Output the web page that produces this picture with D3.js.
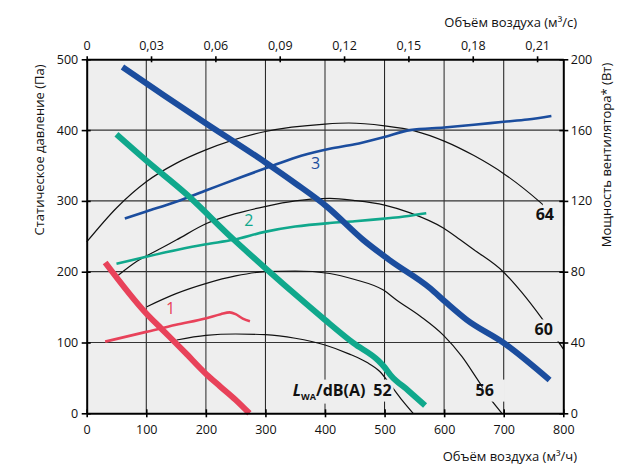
<!DOCTYPE html>
<html>
<head>
<meta charset="utf-8">
<script src="https://cdn.jsdelivr.net/npm/d3@7"></script>
<style>
  body { margin: 0; background: #fff; }
  text { font-family: "Open Sans", sans-serif; fill: #111; }
</style>
</head>
<body>
<svg></svg>
<script>
// tick values / labels
let flowTicks = [0, 100, 200, 300, 400, 500, 600, 700, 800];
let flowSecTicks = [0, 0.03, 0.06, 0.09, 0.12, 0.15, 0.18, 0.21];
let flowSecLabels = ["0", "0,03", "0,06", "0,09", "0,12", "0,15", "0,18", "0,21"];
let pressTicks = [0, 100, 200, 300, 400, 500];
let powerTicks = [0, 40, 80, 120, 160, 200];

// pressure curves, [m3/h, Pa]
let pressure1 = [[31, 213], [100, 141], [126, 119], [165, 86], [201, 55], [224, 38], [250, 19], [273, 0]];
let pressure2 = [[50, 394], [100, 357], [168, 309], [246, 246], [300, 205], [361, 160], [400, 132], [448, 99], [490, 74], [500, 65], [510, 54], [540, 32], [568, 11]];
let pressure3 = [[60, 489], [130, 449], [201, 409], [299, 355], [350, 325], [403, 292], [464, 245], [509, 216], [576, 177], [604, 156], [638, 132], [699, 100], [777, 47]];

// power curves, [m3/h, W]
let power1 = [[31, 40.5], [100, 46], [150, 50], [201, 53.7], [225, 56], [240, 57], [250, 56], [262, 53.5], [274, 52]];
let power2 = [[50, 84.5], [100, 88.5], [151, 92.3], [200, 95.5], [246, 98], [299, 102.5], [350, 105.5], [408, 107.5], [450, 108.5], [500, 110], [540, 111.5], [570, 113]];
let power3 = [[64, 110], [100, 114], [150, 119.5], [201, 126], [260, 133.5], [313, 140], [360, 145.5], [408, 149.5], [450, 152], [498, 156], [543, 160], [600, 161.5], [650, 163], [700, 164.7], [740, 166], [780, 168]];

// sound level curves LWA dB(A), [m3/h, Pa]
let sound52 = [[151, 103.5], [200, 110], [250, 112], [300, 111], [350, 106], [400, 96.5], [440, 84], [470, 72], [492, 59], [510, 40], [530, 18], [548, 0]];
let sound56 = [[101, 150.6], [150, 169], [201, 183.5], [250, 194], [299, 200], [350, 201], [408, 197.5], [450, 189], [498, 174], [520, 160], [560, 137], [599, 110], [630, 80], [655, 49], [677, 21], [697, 0]];
let sound60 = [[53, 195], [85, 215], [120, 231], [151, 245], [201, 268], [250, 282], [299, 292], [350, 300], [408, 303.5], [450, 300.5], [500, 294], [543, 283], [600, 261], [627, 245], [650, 231], [699, 200], [730, 171], [764, 134], [786, 108], [800, 91]];
let sound64 = [[0, 242], [50, 290], [100, 327], [150, 353], [200, 372], [300, 398], [400, 408.5], [440, 410], [500, 406], [550, 399], [600, 384.5], [650, 364], [700, 338.5], [760, 299], [800, 268]];

let soundLabels = ["52", "56", "60", "64"];
let seriesLabels = ["1", "2", "3"];

/***************************/

let red = "#e8425a";
let green = "#10a88c";
let blue = "#1b4d9e";

let margin = {top: 59.3, right: 75.7, bottom: 50.7, left: 86.7};
let width = 639 - margin.left - margin.right;
let height = 464 - margin.top - margin.bottom;

let xScale = d3.scaleLinear().domain([0, 800]).range([0, width]);
let xTopScale = d3.scaleLinear().domain([0, 800 / 3600]).range([0, width]);
let yScale = d3.scaleLinear().domain([0, 500]).range([height, 0]);
let yRightScale = d3.scaleLinear().domain([0, 200]).range([height, 0]);

let svg = d3.select("svg")
            .attr("width", 639)
            .attr("height", 464);

let g = svg.append("g")
          .attr("transform", `translate(${margin.left}, ${margin.top})`);

g.append("rect")
  .attr("width", width)
  .attr("height", height)
  .attr("fill", "#eeeeee");

// grid
g.selectAll(".vgrid")
  .data(flowTicks.slice(1, -1))
  .join("line")
  .attr("x1", d => xScale(d)).attr("x2", d => xScale(d))
  .attr("y1", 0).attr("y2", height)
  .attr("stroke", d => d % 200 === 0 ? "#707070" : "#1a1a1a")
  .attr("stroke-width", d => d % 200 === 0 ? 1.6 : 1);

g.selectAll(".hgrid")
  .data(pressTicks.slice(1, -1))
  .join("line")
  .attr("x1", 0).attr("x2", width)
  .attr("y1", d => yScale(d)).attr("y2", d => yScale(d))
  .attr("stroke", "#333")
  .attr("stroke-width", 1.2);

let linePa = d3.line()
  .x(d => xScale(d[0]))
  .y(d => yScale(d[1]))
  .curve(d3.curveMonotoneX);

let lineW = d3.line()
  .x(d => xScale(d[0]))
  .y(d => yRightScale(d[1]))
  .curve(d3.curveMonotoneX);

// sound curves
[sound52, sound56, sound60, sound64].forEach(s => {
  g.append("path")
    .attr("d", linePa(s))
    .attr("fill", "none")
    .attr("stroke", "#111")
    .attr("stroke-width", 1.2);
});

// labels on sound curves, with a background box that hides the curve
function boxedLabel(x, y, build) {
  let grp = g.append("g");
  let t = grp.append("text")
    .attr("x", x).attr("y", y)
    .attr("font-weight", "bold")
    .attr("font-size", 16);
  build(t);
  let bb = t.node().getBBox();
  grp.insert("rect", "text")
    .attr("x", bb.x - 2).attr("y", bb.y + 1)
    .attr("width", bb.width + 4).attr("height", bb.height)
    .attr("fill", "#eeeeee");
  return t;
}

boxedLabel(xScale(346), yScale(25), t => {
  t.append("tspan").attr("font-style", "italic").text("L");
  t.append("tspan").attr("font-size", 9).attr("dy", 4).text("WA");
  t.append("tspan").attr("dy", -4).text("/dB(A)");
});
boxedLabel(xScale(481), yScale(25), t => t.text(soundLabels[0]));
boxedLabel(xScale(668), yScale(25), t => t.text(soundLabels[1])).attr("text-anchor", "middle");
boxedLabel(xScale(767), yScale(110), t => t.text(soundLabels[2])).attr("text-anchor", "middle");
boxedLabel(xScale(769), yScale(273), t => t.text(soundLabels[3])).attr("text-anchor", "middle");

// power curves (thin)
[[power1, red], [power2, green], [power3, blue]].forEach(([s, c]) => {
  g.append("path")
    .attr("d", lineW(s))
    .attr("fill", "none")
    .attr("stroke", c)
    .attr("stroke-width", 2.6);
});

// pressure curves (thick)
[[pressure1, red], [pressure2, green], [pressure3, blue]].forEach(([s, c]) => {
  g.append("path")
    .attr("d", linePa(s))
    .attr("fill", "none")
    .attr("stroke", c)
    .attr("stroke-width", 6);
});

// series numbers
[[seriesLabels[0], 141, 140, red], [seriesLabels[1], 272, 265, green], [seriesLabels[2], 384, 345, blue]].forEach(([txt, x, y, c]) => {
  g.append("text")
    .attr("x", xScale(x)).attr("y", yScale(y))
    .attr("text-anchor", "middle")
    .attr("font-size", 16)
    .style("fill", c)
    .text(txt);
});

// axes
function styleAxis(sel) {
  sel.select(".domain").attr("stroke", "#000").attr("stroke-width", 2);
  sel.selectAll(".tick line").attr("stroke", "#000").attr("stroke-width", 1.6);
  sel.selectAll(".tick text").attr("font-size", 12.5).style("fill", "#111");
}

let xAxis = g.append("g")
  .attr("transform", `translate(0, ${height})`)
  .call(d3.axisBottom(xScale).tickValues(flowTicks).tickSize(4).tickSizeOuter(0).tickPadding(8).tickFormat(d3.format("d")));
xAxis.selectAll(".tick line").attr("y1", -4);
styleAxis(xAxis);

let xTopAxis = g.append("g")
  .call(d3.axisTop(xTopScale).tickValues(flowSecTicks).tickSize(3).tickSizeOuter(0).tickPadding(6).tickFormat((d, i) => flowSecLabels[i]));
xTopAxis.selectAll(".tick line").attr("y1", 3);
styleAxis(xTopAxis);

let yAxis = g.append("g")
  .call(d3.axisLeft(yScale).tickValues(pressTicks).tickSize(5).tickSizeOuter(0).tickPadding(3.5));
yAxis.selectAll(".tick line").attr("x1", 4);
styleAxis(yAxis);

let yRightAxis = g.append("g")
  .attr("transform", `translate(${width}, 0)`)
  .call(d3.axisRight(yRightScale).tickValues(powerTicks).tickSize(5).tickSizeOuter(0).tickPadding(2.5));
yRightAxis.selectAll(".tick line").attr("x1", -4);
styleAxis(yRightAxis);

// axis titles
svg.append("text")
  .attr("x", 577).attr("y", 27)
  .attr("text-anchor", "end")
  .attr("font-size", 13)
  .text("Объём воздуха (м³/с)");

svg.append("text")
  .attr("x", 577).attr("y", 461)
  .attr("text-anchor", "end")
  .attr("font-size", 13)
  .text("Объём воздуха (м³/ч)");

svg.append("text")
  .attr("transform", "translate(44, 150) rotate(-90)")
  .attr("text-anchor", "middle")
  .attr("font-size", 13)
  .text("Статическое давление (Па)");

svg.append("text")
  .attr("transform", "translate(611, 155) rotate(-90)")
  .attr("text-anchor", "middle")
  .attr("font-size", 13)
  .text("Мощность вентилятора* (Вт)");
</script>
</body>
</html>
